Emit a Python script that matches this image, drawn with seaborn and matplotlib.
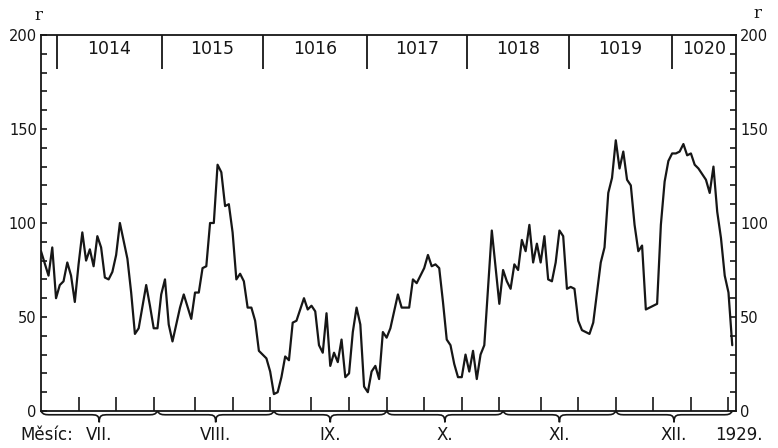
import matplotlib
matplotlib.use("Agg")
import numpy as np
import pandas as pd
import matplotlib.pyplot as plt
from matplotlib.path import Path
from matplotlib.patches import PathPatch
from matplotlib.ticker import MultipleLocator, FixedLocator
import seaborn as sns

# Daily relative sunspot number r, second half of 1929 (day 0 = 1 July)
days = [0, 2, 3, 4, 5, 6, 7, 8, 9, 10, 11, 12, 13, 14, 15, 16, 17, 18, 19, 20,
        21, 23, 24, 25, 26, 28, 29, 30, 31, 32, 33, 34, 35, 37, 38, 40, 41, 42, 43, 44,
        45, 46, 47, 48, 49, 50, 51, 52, 53, 54, 55, 56, 57, 58, 59, 60, 61, 62, 63, 64,
        65, 66, 67, 68, 70, 71, 72, 73, 74, 75, 76, 77, 78, 79, 80, 81, 82, 83, 84, 85,
        86, 87, 88, 89, 90, 91, 92, 93, 95, 96, 98, 99, 100, 102, 103, 104, 105, 106, 107, 108,
        109, 110, 111, 112, 113, 114, 115, 116, 117, 118, 120, 122, 123, 124, 125, 126, 127, 128, 129, 130,
        131, 132, 133, 134, 135, 136, 137, 138, 139, 140, 141, 142, 143, 144, 145, 146, 147, 148, 149, 150,
        151, 152, 153, 154, 155, 156, 157, 158, 159, 160, 161, 162, 164, 165, 166, 167, 168, 169, 170, 171,
        172, 173, 174, 175, 177, 178, 179, 180, 181, 182, 183, 184]
r_values = [85, 72, 87, 60, 67, 69, 79, 72, 58, 78, 95, 80, 86, 77, 93, 87, 71, 70, 74, 83,
            100, 81, 63, 41, 44, 67, 56, 44, 44, 62, 70, 46, 37, 55, 62, 49, 63, 63, 76, 77,
            100, 100, 131, 127, 109, 110, 95, 70, 73, 69, 55, 55, 48, 32, 30, 28, 21, 9, 10, 18,
            29, 27, 47, 48, 60, 54, 56, 53, 35, 31, 52, 24, 31, 26, 38, 18, 20, 42, 55, 46,
            13, 10, 21, 24, 17, 42, 39, 44, 62, 55, 55, 70, 68, 76, 83, 77, 78, 76, 58, 38,
            35, 25, 18, 18, 30, 21, 32, 17, 30, 35, 96, 57, 75, 69, 65, 78, 75, 91, 85, 99,
            79, 89, 79, 93, 70, 69, 79, 96, 93, 65, 66, 65, 48, 43, 42, 41, 47, 63, 79, 87,
            116, 124, 144, 129, 138, 123, 120, 99, 85, 88, 54, 55, 57, 99, 122, 133, 137, 137, 138, 142,
            136, 137, 131, 129, 123, 116, 130, 106, 92, 72, 63, 35]

month_names = ["VII.", "VIII.", "IX.", "X.", "XI.", "XII."]
month_lengths = [31, 31, 30, 31, 30, 31]
month_prefix = "Měsíc:"
year_label = "1929."

# Carrington rotations and the day on which each one begins
rotation_numbers = ["1014", "1015", "1016", "1017", "1018", "1019", "1020"]
rotation_starts = [4.3, 32.2, 59.1, 86.8, 113.4, 140.5, 167.9]

y_tick_labels = [0, 50, 100, 150, 200]

sns.set_theme(style="ticks")
plt.rcParams["font.family"] = ["DejaVu Sans"]
ink = "#161616"

W, H = 778, 448
fig = plt.figure(figsize=(W / 100, H / 100), dpi=100)
fig.patch.set_facecolor("white")
ax = fig.add_axes([41 / W, 1 - 411 / H, 695 / W, 376 / H])
ax.set_facecolor("white")

df = pd.DataFrame({"day": days, "r": r_values})
sns.lineplot(data=df, x="day", y="r", ax=ax, color=ink, linewidth=1.6,
             estimator=None, sort=False)

x_end = 185
ax.set_xlim(0, x_end)
ax.set_ylim(0, 200)
ax.set_xlabel("")
ax.set_ylabel("")

for sp in ax.spines.values():
    sp.set_visible(True)
    sp.set_linewidth(1.3)
    sp.set_color(ink)

# y axis: ticks every 10 on both sides, numbers every 50
ax.yaxis.set_major_locator(FixedLocator(y_tick_labels))
ax.yaxis.set_minor_locator(MultipleLocator(10))
ax.set_yticklabels([str(v) for v in y_tick_labels])
ax.tick_params(axis="y", which="both", direction="in", left=True, right=True,
               labelleft=True, labelright=True, length=4, width=1.2, color=ink,
               labelsize=10.5, labelcolor=ink)
ax.tick_params(axis="y", which="major", pad=3)

# x axis: ticks on the 10th, 20th and 30th of each month
month_starts = np.concatenate([[0], np.cumsum(month_lengths)[:-1]])
month_ends = np.cumsum(month_lengths)
x_ticks = [s + k for s in month_starts for k in (10, 20, 30)]
ax.xaxis.set_major_locator(FixedLocator(x_ticks))
ax.xaxis.set_minor_locator(FixedLocator([]))
ax.tick_params(axis="x", which="both", direction="in", bottom=True, top=False,
               labelbottom=False, length=10, width=1.2, color=ink)


def brace(x0, x1, e=0.0, m=-2.0, tip=-6.0, w=2.5):
    xm = (x0 + x1) / 2
    verts = [(x0, e),
             (x0 + 0.2 * w, m), (x0 + 0.5 * w, m), (x0 + w, m),
             (xm - w, m),
             (xm - 0.3 * w, m), (xm, m), (xm, tip),
             (xm, m), (xm + 0.3 * w, m), (xm + w, m),
             (x1 - w, m),
             (x1 - 0.5 * w, m), (x1 - 0.2 * w, m), (x1, e)]
    codes = [Path.MOVETO,
             Path.CURVE4, Path.CURVE4, Path.CURVE4,
             Path.LINETO,
             Path.CURVE4, Path.CURVE4, Path.CURVE4,
             Path.CURVE4, Path.CURVE4, Path.CURVE4,
             Path.LINETO,
             Path.CURVE4, Path.CURVE4, Path.CURVE4]
    patch = PathPatch(Path(verts, codes), fill=False, edgecolor=ink, linewidth=1.2,
                      clip_on=False, transform=ax.transData)
    ax.add_patch(patch)


label_y = -12.5
for s, e_, name in zip(month_starts, month_ends, month_names):
    brace(s, e_)
    ax.text((s + e_) / 2, label_y, name, ha="center", va="center", fontsize=12,
            color=ink, clip_on=False)
ax.text(8.5, label_y, month_prefix, ha="right", va="center", fontsize=12,
        color=ink, clip_on=False)
ax.text(185.8, label_y, year_label, ha="center", va="center", fontsize=12,
        color=ink, clip_on=False)

# Carrington rotation band along the top
ax.vlines(rotation_starts, 182, 200, color=ink, linewidth=1.3)
bounds = rotation_starts + [x_end]
for i, num in enumerate(rotation_numbers):
    ax.text((bounds[i] + bounds[i + 1]) / 2, 192.5, num, ha="center", va="center",
            fontsize=12.5, color=ink)

# axis quantity symbol above both vertical axes
fig.text(38 / W, 1 - 15 / H, "r", ha="center", va="center", fontsize=12,
         family=["DejaVu Serif"], color=ink)
fig.text(757 / W, 1 - 14 / H, "r", ha="center", va="center", fontsize=12,
         family=["DejaVu Serif"], color=ink)

fig.savefig("out.png", dpi=100, facecolor="white")
